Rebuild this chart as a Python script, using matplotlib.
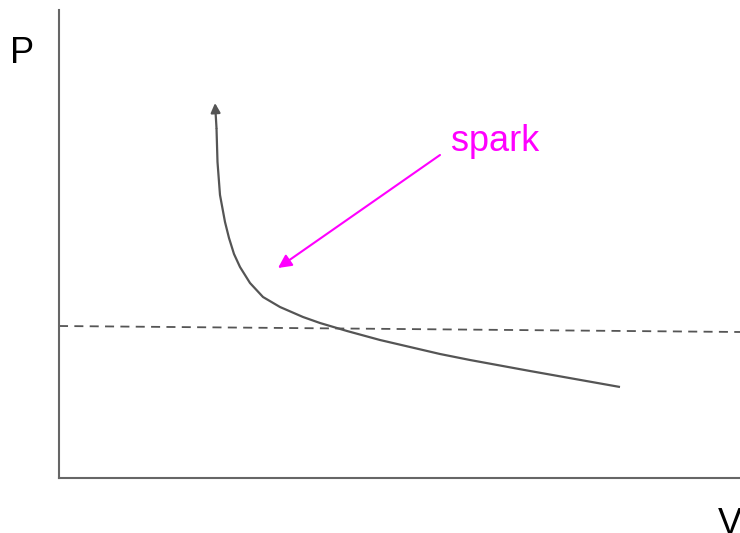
import numpy as np
import matplotlib.pyplot as plt

plt.rcParams['font.family'] = ['Liberation Sans', 'DejaVu Sans']

# expansion curve (V, P), first point = arrow tip
curve_v = [156, 157.5, 158.5, 161, 166, 170, 175, 181, 191, 204, 221,
           244, 261, 288, 321, 351, 381, 411, 471, 516, 561]
curve_p = [375, 350, 316, 283, 256, 240, 224, 211, 195, 181, 171,
           161, 155, 147, 138, 131, 124, 118, 107, 99, 91]

# dashed reference line
ref_v = [0, 681]
ref_p = [152, 146]

# spark annotation
spark_text = (392, 327)
spark_tail = (381, 323)
spark_head = (219, 210)

fig = plt.figure(figsize=(7.4, 5.33), dpi=100)
ax = fig.add_axes([59/740, 55/533, 681/740, 468/533])
ax.set_xlim(0, 681)
ax.set_ylim(0, 468)
for s in ['top', 'right']:
    ax.spines[s].set_visible(False)
for s in ['left', 'bottom']:
    ax.spines[s].set_color('#666666')
    ax.spines[s].set_linewidth(1.5)
ax.set_xticks([])
ax.set_yticks([])

gray = '#555555'
ax.plot(curve_v[1:], curve_p[1:], color=gray, lw=1.6,
        solid_joinstyle='round', solid_capstyle='butt')
ax.annotate('', xy=(curve_v[0], curve_p[0]), xytext=(curve_v[1], curve_p[1]),
            arrowprops=dict(arrowstyle='-|>', color=gray, lw=1.6,
                            mutation_scale=14, shrinkA=0, shrinkB=0))

ax.plot(ref_v, ref_p, color=gray, lw=1.3, ls=(0, (5, 3.5)))

ax.annotate('', xy=spark_head, xytext=spark_tail,
            arrowprops=dict(arrowstyle='-|>', color='#ff00ff', lw=1.5,
                            mutation_scale=20, shrinkA=0, shrinkB=0))
ax.text(spark_text[0], spark_text[1], 'spark', color='#ff00ff', fontsize=26,
        ha='left', va='baseline')

fig.text(10/740, (533-63)/533, 'P', fontsize=26, ha='left', va='baseline')
fig.text(718/740, -0.002, 'V', fontsize=26, ha='left', va='baseline')

fig.savefig('out.png', dpi=100)
